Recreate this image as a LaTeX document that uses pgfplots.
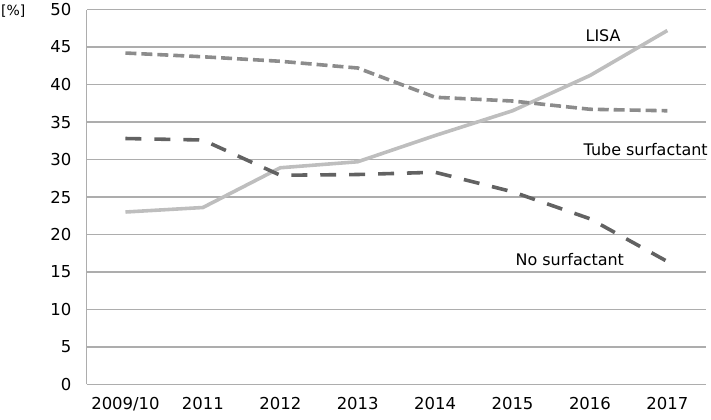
\documentclass[border=0pt]{standalone}
\usepackage{fontspec}
\setmainfont{DejaVu Sans}
\usepackage{pgfplots}
\pgfplotsset{compat=1.18}
\definecolor{lisagray}{HTML}{BEBEBE}
\definecolor{tubegray}{HTML}{8C8C8C}
\definecolor{nogray}{HTML}{626262}
\definecolor{gridgray}{HTML}{ADADAD}

\begin{document}
\begin{tikzpicture}[x=1bp,y=1bp]
\begin{axis}[
  at={(0,0)}, anchor=south west,
  scale only axis,
  width=621bp, height=376bp,
  xmin=-0.5, xmax=7.5,
  ymin=0, ymax=50,
  xtick={0,...,7},
  xticklabels={2009/10,2011,2012,2013,2014,2015,2016,2017},
  ytick={0,5,...,50},
  ymajorgrids,
  grid style={gridgray, line width=1.2bp},
  axis x line=bottom, axis y line=left,
  axis line style={gridgray, line width=1.2bp, -},
  major tick length=0pt,
  tick label style={font=\fontsize{16.5bp}{19bp}\selectfont},
  /pgf/number format/assume math mode=true,
  yticklabel style={xshift=-12bp},
  xticklabel style={yshift=-9bp},
  clip=false,
]
\addplot[lisagray, line width=3.6bp] coordinates {
  (0,23.0) (1,23.6) (2,28.9) (3,29.7) (4,33.2) (5,36.5) (6,41.2) (7,47.2)
};
\addplot[tubegray, line width=3.6bp, dash pattern=on 11bp off 5bp] coordinates {
  (0,44.2) (1,43.7) (2,43.1) (3,42.2) (4,38.3) (5,37.8) (6,36.7) (7,36.5)
};
\addplot[nogray, line width=3.6bp, dash pattern=on 16bp off 13bp] coordinates {
  (0,32.8) (1,32.6) (2,27.9) (3,28.0) (4,28.3) (5,25.7) (6,22.1) (7,16.4)
};
\node[font=\fontsize{16bp}{19bp}\selectfont] at (axis cs:6.17,46.5) {LISA};
\node[font=\fontsize{16bp}{19bp}\selectfont] at (axis cs:6.72,31.3) {Tube surfactant};
\node[font=\fontsize{16bp}{19bp}\selectfont] at (axis cs:5.74,16.6) {No surfactant};
\end{axis}
\node[anchor=west, inner sep=0pt, font=\fontsize{14bp}{17bp}\selectfont] at (-86bp,374bp) {[\%]};
\path[use as bounding box] (-87bp,-35bp) rectangle (624bp,385bp);
\end{tikzpicture}
\end{document}
